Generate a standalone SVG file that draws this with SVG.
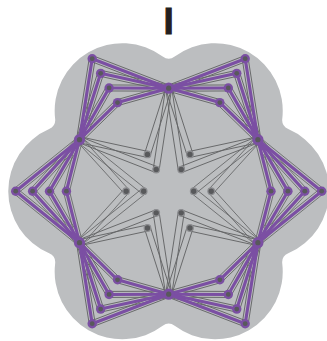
<svg xmlns="http://www.w3.org/2000/svg" xmlns:xlink="http://www.w3.org/1999/xlink" width="327" height="341" viewBox="0 0 327 341">
<style>
.gl{stroke:#636466;stroke-width:0.85;fill:none}
.pl{stroke:#7b4fa3;stroke-width:3.1;fill:none;stroke-linecap:round}
.po{fill:#7b4fa3}
.dk{fill:#58595b}
.in{fill:#58595b;stroke:#8c8d90;stroke-width:1.2}
.lbl{font-family:"Liberation Sans",Arial,sans-serif;font-weight:bold;font-size:37px;fill:#231f20;stroke:#231f20;stroke-width:0.9}
</style>
<defs>
<g id="grayHalf" class="gl">
<line x1="92.11" y1="-52.24" x2="105.21" y2="-0.74"/>
<line x1="86.29" y1="-50.76" x2="99.39" y2="0.74"/>
<line x1="91.79" y1="-53.01" x2="121.79" y2="-1.51"/>
<line x1="86.61" y1="-49.99" x2="116.61" y2="1.51"/>
<line x1="91.42" y1="-53.52" x2="138.32" y2="-2.02"/>
<line x1="86.98" y1="-49.48" x2="133.88" y2="2.02"/>
<line x1="91.08" y1="-53.83" x2="154.88" y2="-2.33"/>
<line x1="87.32" y1="-49.17" x2="151.12" y2="2.33"/>
<line x1="91.42" y1="-49.49" x2="44.72" y2="2.02"/>
<line x1="86.98" y1="-53.52" x2="40.28" y2="-2.02"/>
<line x1="91.08" y1="-49.16" x2="26.88" y2="2.34"/>
<line x1="87.32" y1="-53.84" x2="23.12" y2="-2.34"/>
</g>
<g id="graySector"><use xlink:href="#grayHalf"/><use xlink:href="#grayHalf" transform="scale(1,-1)"/></g>
<g id="purpleHalf" class="pl">
<line x1="89.2" y1="-51.5" x2="102.3" y2="0"/>
<line x1="89.2" y1="-51.5" x2="119.2" y2="0"/>
<line x1="89.2" y1="-51.5" x2="136.1" y2="0"/>
<line x1="89.2" y1="-51.5" x2="153" y2="0"/>
</g>
<g id="purpleSector"><use xlink:href="#purpleHalf"/><use xlink:href="#purpleHalf" transform="scale(1,-1)"/></g>
</defs>

<path id="blob" fill="#bcbec0" d="M162.71,56.60 A10,10 0 0 0 174.69,56.60 A67.6,67.6 0 0 1 282.27,118.71 A10,10 0 0 0 288.26,129.10 A67.6,67.6 0 0 1 288.26,253.30 A10,10 0 0 0 282.27,263.69 A67.6,67.6 0 0 1 174.69,325.80 A10,10 0 0 0 162.71,325.80 A67.6,67.6 0 0 1 55.13,263.69 A10,10 0 0 0 49.14,253.30 A67.6,67.6 0 0 1 49.14,129.10 A10,10 0 0 0 55.13,118.71 A67.6,67.6 0 0 1 162.71,56.60 Z"/>

<text class="lbl" x="168.7" y="33.5" text-anchor="middle">I</text>

<g id="connectors" transform="translate(168.7 191.2)">
<use xlink:href="#graySector"/>
<use xlink:href="#graySector" transform="rotate(60)"/>
<use xlink:href="#graySector" transform="rotate(120)"/>
<use xlink:href="#graySector" transform="rotate(180)"/>
<use xlink:href="#graySector" transform="rotate(240)"/>
<use xlink:href="#graySector" transform="rotate(300)"/>
<use xlink:href="#purpleSector"/>
<use xlink:href="#purpleSector" transform="rotate(60)"/>
<use xlink:href="#purpleSector" transform="rotate(120)"/>
<use xlink:href="#purpleSector" transform="rotate(180)"/>
<use xlink:href="#purpleSector" transform="rotate(240)"/>
<use xlink:href="#purpleSector" transform="rotate(300)"/>
</g>

<g id="nodes">
<g id="hub-top"><circle class="po" cx="168.7" cy="88.2" r="5.6"/><circle class="dk" cx="168.7" cy="88.2" r="2.6"/></g>
<g id="hub-upper-right"><circle class="po" cx="257.9" cy="139.7" r="5.6"/><circle class="dk" cx="257.9" cy="139.7" r="2.6"/></g>
<g id="hub-lower-right"><circle class="po" cx="257.9" cy="242.7" r="5.6"/><circle class="dk" cx="257.9" cy="242.7" r="2.6"/></g>
<g id="hub-bottom"><circle class="po" cx="168.7" cy="294.2" r="5.6"/><circle class="dk" cx="168.7" cy="294.2" r="2.6"/></g>
<g id="hub-lower-left"><circle class="po" cx="79.5" cy="242.7" r="5.6"/><circle class="dk" cx="79.5" cy="242.7" r="2.6"/></g>
<g id="hub-upper-left"><circle class="po" cx="79.5" cy="139.7" r="5.6"/><circle class="dk" cx="79.5" cy="139.7" r="2.6"/></g>

<g id="fan-r1"><circle class="po" cx="271" cy="191.2" r="4.7"/><circle class="dk" cx="271" cy="191.2" r="2.4"/></g>
<g id="fan-r2"><circle class="po" cx="287.9" cy="191.2" r="4.7"/><circle class="dk" cx="287.9" cy="191.2" r="2.4"/></g>
<g id="fan-r3"><circle class="po" cx="304.8" cy="191.2" r="4.7"/><circle class="dk" cx="304.8" cy="191.2" r="2.4"/></g>
<g id="fan-r4"><circle class="po" cx="321.7" cy="191.2" r="4.7"/><circle class="dk" cx="321.7" cy="191.2" r="2.4"/></g>

<g id="fan-l1"><circle class="po" cx="66.4" cy="191.2" r="4.7"/><circle class="dk" cx="66.4" cy="191.2" r="2.4"/></g>
<g id="fan-l2"><circle class="po" cx="49.5" cy="191.2" r="4.7"/><circle class="dk" cx="49.5" cy="191.2" r="2.4"/></g>
<g id="fan-l3"><circle class="po" cx="32.6" cy="191.2" r="4.7"/><circle class="dk" cx="32.6" cy="191.2" r="2.4"/></g>
<g id="fan-l4"><circle class="po" cx="15.7" cy="191.2" r="4.7"/><circle class="dk" cx="15.7" cy="191.2" r="2.4"/></g>

<g id="fan-tr1"><circle class="po" cx="219.85" cy="102.61" r="4.7"/><circle class="dk" cx="219.85" cy="102.61" r="2.4"/></g>
<g id="fan-tr2"><circle class="po" cx="228.3" cy="87.97" r="4.7"/><circle class="dk" cx="228.3" cy="87.97" r="2.4"/></g>
<g id="fan-tr3"><circle class="po" cx="236.75" cy="73.34" r="4.7"/><circle class="dk" cx="236.75" cy="73.34" r="2.4"/></g>
<g id="fan-tr4"><circle class="po" cx="245.2" cy="58.7" r="4.7"/><circle class="dk" cx="245.2" cy="58.7" r="2.4"/></g>

<g id="fan-tl1"><circle class="po" cx="117.55" cy="102.61" r="4.7"/><circle class="dk" cx="117.55" cy="102.61" r="2.4"/></g>
<g id="fan-tl2"><circle class="po" cx="109.1" cy="87.97" r="4.7"/><circle class="dk" cx="109.1" cy="87.97" r="2.4"/></g>
<g id="fan-tl3"><circle class="po" cx="100.65" cy="73.34" r="4.7"/><circle class="dk" cx="100.65" cy="73.34" r="2.4"/></g>
<g id="fan-tl4"><circle class="po" cx="92.2" cy="58.7" r="4.7"/><circle class="dk" cx="92.2" cy="58.7" r="2.4"/></g>

<g id="fan-br1"><circle class="po" cx="219.85" cy="279.79" r="4.7"/><circle class="dk" cx="219.85" cy="279.79" r="2.4"/></g>
<g id="fan-br2"><circle class="po" cx="228.3" cy="294.43" r="4.7"/><circle class="dk" cx="228.3" cy="294.43" r="2.4"/></g>
<g id="fan-br3"><circle class="po" cx="236.75" cy="309.06" r="4.7"/><circle class="dk" cx="236.75" cy="309.06" r="2.4"/></g>
<g id="fan-br4"><circle class="po" cx="245.2" cy="323.7" r="4.7"/><circle class="dk" cx="245.2" cy="323.7" r="2.4"/></g>

<g id="fan-bl1"><circle class="po" cx="117.55" cy="279.79" r="4.7"/><circle class="dk" cx="117.55" cy="279.79" r="2.4"/></g>
<g id="fan-bl2"><circle class="po" cx="109.1" cy="294.43" r="4.7"/><circle class="dk" cx="109.1" cy="294.43" r="2.4"/></g>
<g id="fan-bl3"><circle class="po" cx="100.65" cy="309.06" r="4.7"/><circle class="dk" cx="100.65" cy="309.06" r="2.4"/></g>
<g id="fan-bl4"><circle class="po" cx="92.2" cy="323.7" r="4.7"/><circle class="dk" cx="92.2" cy="323.7" r="2.4"/></g>

<g id="inner-r-a"><circle class="in" cx="193.7" cy="191.2" r="3.3"/></g>
<g id="inner-r-b"><circle class="in" cx="211.2" cy="191.2" r="3.3"/></g>
<g id="inner-tr-a"><circle class="in" cx="181.2" cy="169.55" r="3.3"/></g>
<g id="inner-tr-b"><circle class="in" cx="189.95" cy="154.4" r="3.3"/></g>
<g id="inner-tl-a"><circle class="in" cx="156.2" cy="169.55" r="3.3"/></g>
<g id="inner-tl-b"><circle class="in" cx="147.45" cy="154.4" r="3.3"/></g>
<g id="inner-l-a"><circle class="in" cx="143.7" cy="191.2" r="3.3"/></g>
<g id="inner-l-b"><circle class="in" cx="126.2" cy="191.2" r="3.3"/></g>
<g id="inner-bl-a"><circle class="in" cx="156.2" cy="212.85" r="3.3"/></g>
<g id="inner-bl-b"><circle class="in" cx="147.45" cy="228" r="3.3"/></g>
<g id="inner-br-a"><circle class="in" cx="181.2" cy="212.85" r="3.3"/></g>
<g id="inner-br-b"><circle class="in" cx="189.95" cy="228" r="3.3"/></g>
</g>
</svg>
